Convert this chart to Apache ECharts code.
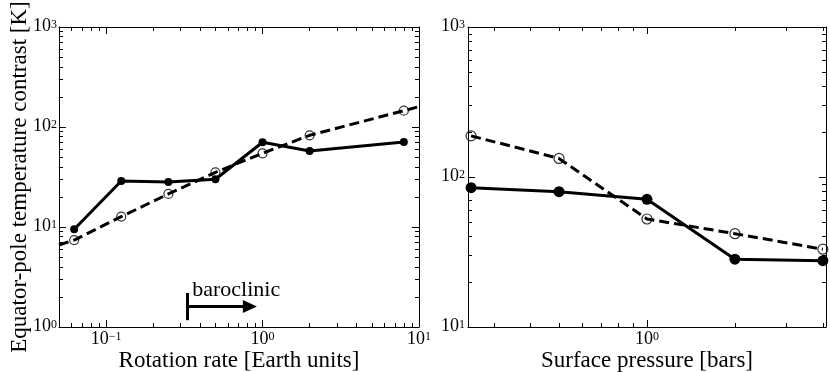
<!DOCTYPE html>
<html>
<head>
<meta charset="utf-8">
<script src="https://cdn.jsdelivr.net/npm/echarts@6.0.0/dist/echarts.min.js"></script>
<style>
    html, body { margin: 0; padding: 0; background: #fff; }
    #main { width: 830px; height: 372px; }
</style>
</head>
<body>
<div id="main"></div>
<script type="text/javascript">
    // left panel: rotation rate runs
    var rotRate = [0.0625, 0.125, 0.25, 0.5, 1, 2, 8];
    var rotSolid = [9.5, 28.8, 28.2, 30.0, 70.3, 57.5, 70.8];
    var rotOpen = [7.4, 12.7, 21.4, 35.2, 54.6, 82.6, 145.6];
    // the dashed curve runs on to both frame edges
    var rotDashEndX = [0.05, 10];
    var rotDashEndY = [6.6, 160];

    // right panel: surface pressure runs
    var presBars = [0.25, 0.5, 1, 2, 4];
    var presSolid = [84.9, 79.8, 71.0, 28.3, 27.7];
    var presOpen = [188, 133, 52.5, 41.9, 33.0];

    // major ticks (labelled 10^n)
    var rotTicks = [0.1, 1, 10];
    var tempTicksL = [1, 10, 100, 1000];
    var presTicks = [1];
    var tempTicksR = [10, 100, 1000];

    var serif = 'Liberation Serif';

    function minorTicks(lo, hi) {
        var out = [];
        for (var d = Math.floor(Math.log10(lo)) ; d <= Math.ceil(Math.log10(hi)); d++) {
            for (var k = 2; k <= 9; k++) {
                var v = k * Math.pow(10, d);
                if (v >= lo * 0.999 && v <= hi * 1.001) out.push(v);
            }
        }
        return out;
    }

    function powLabel(v) {
        var e = Math.round(Math.log10(v));
        return '{b|10}{e|' + (e < 0 ? '\u2212' + (-e) : e) + '}';
    }
    var powRich = {
        b: { fontFamily: serif, fontSize: 18, lineHeight: 17, color: '#000', verticalAlign: 'bottom' },
        e: { fontFamily: serif, fontSize: 12, lineHeight: 12, color: '#000', verticalAlign: 'top', padding: [0, 0, 8, 0] }
    };

    // one log axis; every side of each frame gets a major and a minor axis
    function axis(grid, min, max, pos, ticks, len, opt) {
        opt = opt || {};
        var a = {
            type: 'log', logBase: 10, gridIndex: grid, min: min, max: max, position: pos,
            axisLine: { show: !!opt.line, onZero: false, lineStyle: { color: '#000', width: 1 } },
            axisTick: { show: true, inside: true, length: len, customValues: ticks,
                        lineStyle: { color: '#000', width: 1 } },
            axisLabel: { show: false },
            splitLine: { show: false },
            minorTick: { show: false },
            minorSplitLine: { show: false }
        };
        if (opt.labels) {
            a.axisLabel = { show: true, customValues: ticks, margin: opt.margin, formatter: powLabel,
                            rich: powRich, hideOverlap: false };
        }
        if (opt.name) {
            a.name = opt.name;
            a.nameLocation = 'middle';
            a.nameGap = opt.nameGap;
            a.nameMoveOverlap = false;
            a.nameTextStyle = { fontFamily: serif, fontSize: 23, color: '#000' };
        }
        return a;
    }

    var lx = [0.05, 10], ly = [1, 1000];
    var rx = [0.244, 4.1], ry = [10, 1000];

    var xAxes = [
        axis(0, lx[0], lx[1], 'bottom', rotTicks, 7, { line: true, labels: true, margin: 4,
            name: 'Rotation rate [Earth units]', nameGap: 22 }),
        axis(0, lx[0], lx[1], 'bottom', minorTicks(lx[0], lx[1]), 4),
        axis(0, lx[0], lx[1], 'top', rotTicks, 7, { line: true }),
        axis(0, lx[0], lx[1], 'top', minorTicks(lx[0], lx[1]), 4),
        axis(1, rx[0], rx[1], 'bottom', presTicks, 7, { line: true, labels: true, margin: 4,
            name: 'Surface pressure [bars]', nameGap: 22 }),
        axis(1, rx[0], rx[1], 'bottom', minorTicks(rx[0], rx[1]), 4),
        axis(1, rx[0], rx[1], 'top', presTicks, 7, { line: true }),
        axis(1, rx[0], rx[1], 'top', minorTicks(rx[0], rx[1]), 4)
    ];
    var yAxes = [
        axis(0, ly[0], ly[1], 'left', tempTicksL, 7, { line: true, labels: true, margin: 2,
            name: 'Equator-pole temperature contrast [K]', nameGap: 28 }),
        axis(0, ly[0], ly[1], 'left', minorTicks(ly[0], ly[1]), 4),
        axis(0, ly[0], ly[1], 'right', tempTicksL, 7, { line: true }),
        axis(0, ly[0], ly[1], 'right', minorTicks(ly[0], ly[1]), 4),
        axis(1, ry[0], ry[1], 'left', tempTicksR, 7, { line: true, labels: true, margin: 3 }),
        axis(1, ry[0], ry[1], 'left', minorTicks(ry[0], ry[1]), 4),
        axis(1, ry[0], ry[1], 'right', tempTicksR, 7, { line: true }),
        axis(1, ry[0], ry[1], 'right', minorTicks(ry[0], ry[1]), 4)
    ];

    function pairs(xs, ys) {
        return xs.map(function (x, i) { return [x, ys[i]]; });
    }
    var rotDash = [[rotDashEndX[0], rotDashEndY[0]]]
        .concat(pairs(rotRate, rotOpen))
        .concat([[rotDashEndX[1], rotDashEndY[1]]]);

    function solid(grid, data, size, extra) {
        var s = {
            type: 'line', xAxisIndex: grid * 4, yAxisIndex: grid * 4, data: data,
            symbol: 'circle', symbolSize: size, showSymbol: true,
            itemStyle: { color: '#000' },
            lineStyle: { color: '#000', width: 3 },
            z: 3
        };
        for (var k in extra) s[k] = extra[k];
        return s;
    }
    function dashed(grid, data) {
        return {
            type: 'line', xAxisIndex: grid * 4, yAxisIndex: grid * 4, data: data,
            symbol: 'none', lineStyle: { color: '#000', width: 3, type: [10, 5] }, z: 2
        };
    }
    function openMarks(grid, data, size) {
        return {
            type: 'scatter', xAxisIndex: grid * 4, yAxisIndex: grid * 4, data: data,
            symbol: 'circle', symbolSize: size,
            itemStyle: { color: 'rgba(255,255,255,0)', borderColor: '#000', borderWidth: 1.2 },
            z: 4
        };
    }

    var myChart = echarts.init(document.getElementById('main'));
    var option = {
        animation: false,
        backgroundColor: '#fff',
        grid: [
            { left: 59, top: 27, width: 360, height: 300, containLabel: false, outerBoundsMode: 'none' },
            { left: 468, top: 27, width: 358, height: 300, containLabel: false, outerBoundsMode: 'none' }
        ],
        xAxis: xAxes,
        yAxis: yAxes,
        series: [
            dashed(0, rotDash),
            openMarks(0, pairs(rotRate, rotOpen), 9),
            solid(0, pairs(rotRate, rotSolid), 8, {
                // baroclinic regime marker
                markLine: {
                    silent: true, animation: false,
                    label: { show: false },
                    lineStyle: { color: '#000', width: 3, type: 'solid' },
                    data: [
                        [{ coord: [0.33, 1.17], symbol: 'none' }, { coord: [0.33, 2.19], symbol: 'none' }],
                        [{ coord: [0.33, 1.6], symbol: 'none' },
                         { coord: [0.83, 1.6], symbol: 'triangle', symbolSize: [13, 14] }]
                    ]
                },
                markPoint: {
                    silent: true, animation: false,
                    data: [{
                        coord: [0.33, 2.32], symbol: 'circle', symbolSize: 0,
                        label: { show: true, position: 'right', distance: 5, formatter: 'baroclinic',
                                 fontFamily: serif, fontSize: 22, color: '#000' }
                    }]
                }
            }),
            dashed(1, pairs(presBars, presOpen)),
            openMarks(1, pairs(presBars, presOpen), 10),
            solid(1, pairs(presBars, presSolid), 11)
        ]
    };
    myChart.setOption(option);
</script>
</body>
</html>
